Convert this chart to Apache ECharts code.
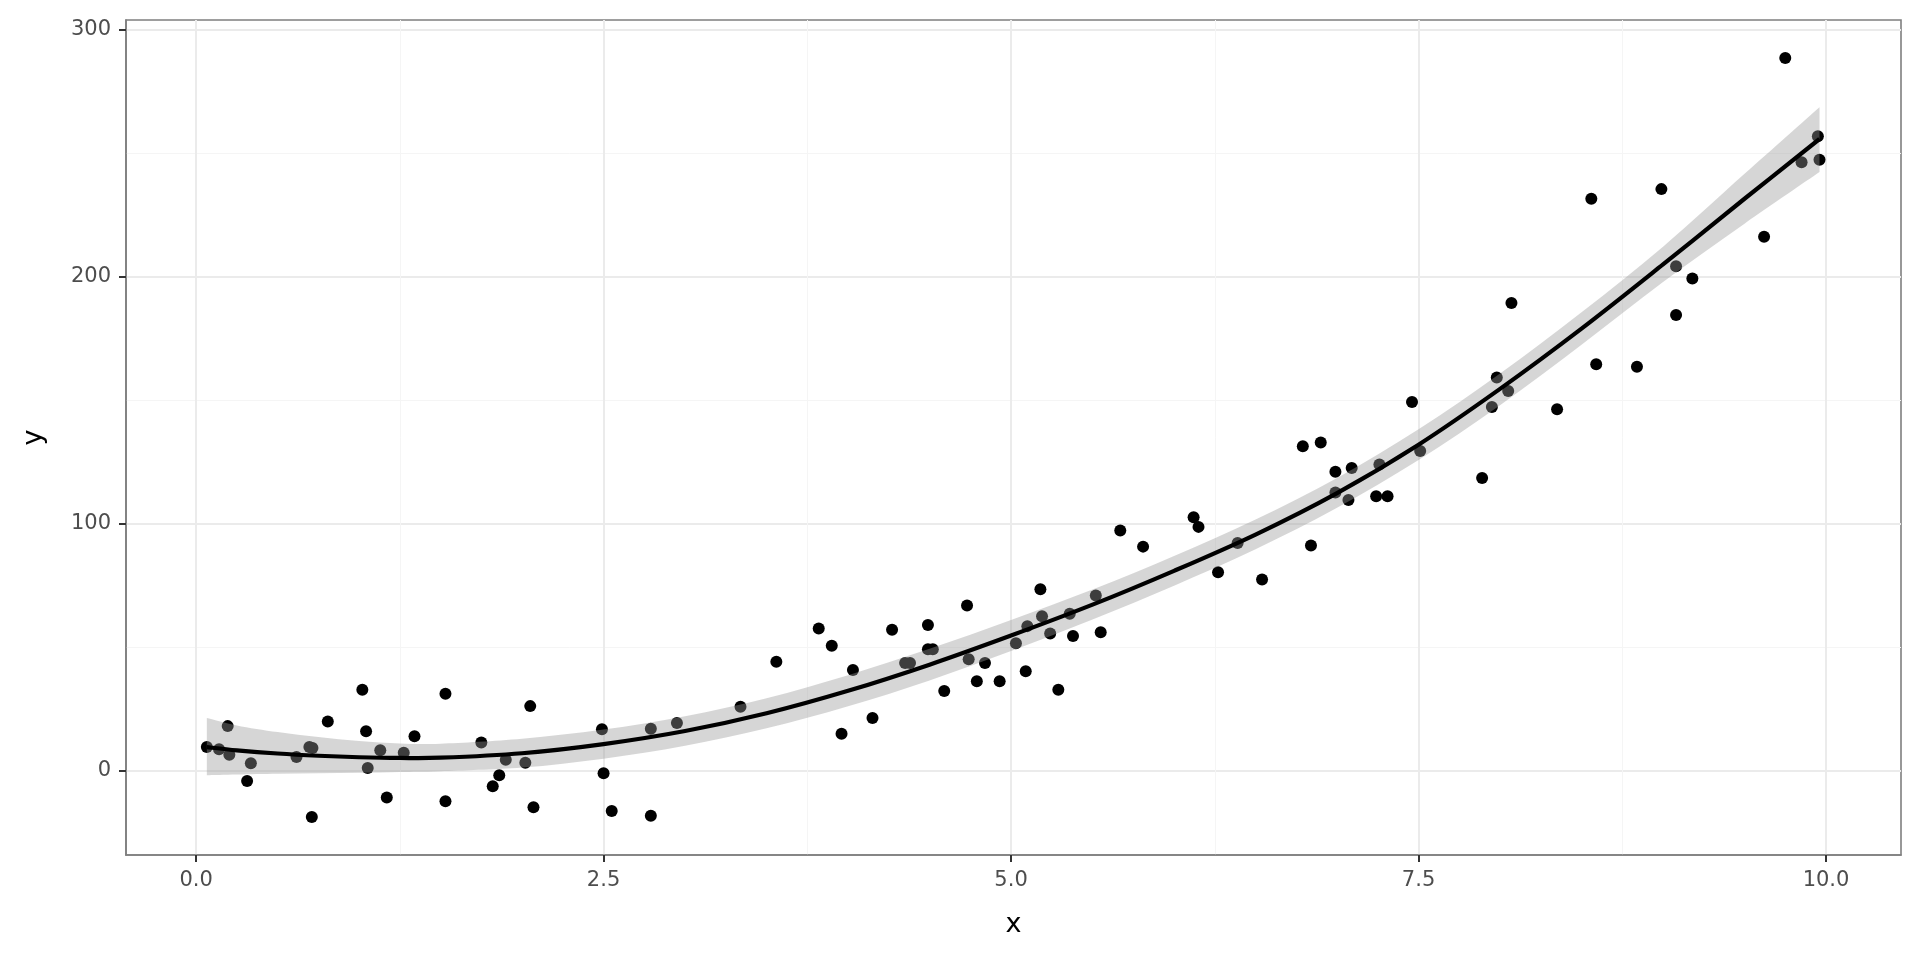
<!DOCTYPE html>
<html>
<head>
<meta charset="utf-8">
<script src="https://cdn.jsdelivr.net/npm/echarts@6/dist/echarts.min.js"></script>
<style>
html,body{margin:0;padding:0;background:#fff;}
#chart{width:1920px;height:960px;}
</style>
</head>
<body>
<div id="chart"></div>
<script>
// Scatter data
const pointX = [0.066,0.141,0.194,0.204,0.313,0.336,0.616,0.695,0.714,0.71,0.808,1.02,1.043,1.053,1.13,1.17,1.274,1.34,1.53,1.53,1.75,1.82,1.86,1.90,2.02,2.05,2.07,2.49,2.50,2.55,2.79,2.79,2.95,
  3.34,3.56,3.82,3.90,3.96,4.03,4.15,4.27,4.35,4.38,4.49,4.49,4.52,4.59,4.73,4.74,4.79,4.84,4.93,5.03,5.09,5.10,5.18,5.19,5.24,5.29,5.36,5.38,5.52,5.55,5.67,5.81,6.12,6.15,6.27,6.39,6.54,6.79,6.84,6.90,6.99,6.99,7.07,7.09,7.24,7.26,7.31,7.46,7.51,
  7.89,7.95,7.98,8.05,8.07,8.35,8.56,8.59,8.84,8.99,9.08,9.08,9.18,9.62,9.75,9.85,9.95,9.96];
const pointY = [9.5,8.6,18.0,6.4,-4.2,3.0,5.5,9.5,9.1,-18.8,19.9,32.7,15.9,1.0,8.2,-10.9,7.2,13.9,31.1,-12.4,11.4,-6.4,-1.9,4.4,3.2,26.1,-14.9,16.7,-1.1,-16.4,16.9,-18.3,19.3,
  25.8,44.1,57.5,50.6,14.9,40.7,21.3,57.0,43.6,43.6,59.0,49.1,49.1,32.2,66.9,45.1,36.2,43.6,36.2,51.6,40.2,58.5,73.4,62.5,55.5,32.7,63.5,54.5,70.9,56.0,97.2,90.7,102.6,98.7,80.3,92.2,77.4,131.4,91.2,132.9,121.0,112.6,109.6,122.5,111.1,124.0,111.1,149.3,129.4,
  118.5,147.3,159.2,153.7,189.4,146.3,231.6,164.6,163.6,235.5,184.5,204.3,199.3,216.2,288.6,246.4,256.9,247.4];

// Smoothed fit and confidence band
const fitX     = [0.066,0.25,0.5,0.75,1.0,1.25,1.5,2.0,2.5,3.0,3.5,4.0,4.5,5.0,5.5,6.0,6.5,7.0,7.5,8.0,8.5,9.0,9.5,9.96];
const fitY     = [9.5,8.2,6.9,6.0,5.4,5.1,5.2,7.0,10.7,16.0,23.2,32.3,42.9,54.7,67.2,80.9,95.6,112.4,132.0,154.6,179.0,205.0,231.6,255.8];
const fitLower = [-1.9,-1.6,-1.3,-1.1,-0.9,-0.6,-0.3,1.2,4.8,10.0,17.1,26.0,36.5,48.4,61.2,74.9,89.6,106.4,125.8,148.0,172.5,197.9,221.5,242.4];
const fitUpper = [21.3,18.3,15.6,13.6,12.0,11.0,10.9,12.9,16.6,22.0,29.3,38.6,49.3,61.0,73.3,86.9,101.7,118.5,138.2,160.8,185.6,212.2,241.7,268.7];

// Axis ticks
const xTicks = [0, 2.5, 5, 7.5, 10];
const xMinor = [1.25, 3.75, 6.25, 8.75];
const yTicks = [0, 100, 200, 300];
const yMinor = [50, 150, 250];

const FONT = 'DejaVu Sans';
const chart = echarts.init(document.getElementById('chart'), null, {renderer: 'canvas'});

const scatterData = pointX.map((x, i) => [x, pointY[i]]);
const lineData = fitX.map((x, i) => [x, fitY[i]]);
const bandData = fitX.map((x, i) => [x, fitLower[i], fitUpper[i]]);

const xMin = -0.43, xMax = 10.46, yMin = -34.2, yMax = 304;

// Catmull-Rom spline through pixel points -> SVG path commands (continuing a path)
function splineSegs(p) {
  let d = '';
  for (let i = 0; i < p.length - 1; i++) {
    const p0 = p[Math.max(i - 1, 0)], p1 = p[i], p2 = p[i + 1], p3 = p[Math.min(i + 2, p.length - 1)];
    const c1x = p1[0] + (p2[0] - p0[0]) / 6, c1y = p1[1] + (p2[1] - p0[1]) / 6;
    const c2x = p2[0] - (p3[0] - p1[0]) / 6, c2y = p2[1] - (p3[1] - p1[1]) / 6;
    d += ' C' + c1x + ',' + c1y + ' ' + c2x + ',' + c2y + ' ' + p2[0] + ',' + p2[1];
  }
  return d;
}

const borderLine = {show: true, onZero: false, lineStyle: {color: '#7f7f7f', width: 1.6}};

chart.setOption({
  animation: false,
  backgroundColor: '#ffffff',
  grid: {
    left: 126, right: 19, top: 20, bottom: 105,
    containLabel: false, outerBoundsMode: 'none',
    show: true, borderColor: '#7f7f7f', borderWidth: 1.6, backgroundColor: 'transparent'
  },
  xAxis: [
    {
      type: 'value', min: xMin, max: xMax, position: 'bottom',
      name: 'x', nameLocation: 'middle', nameGap: 56,
      nameTextStyle: {fontFamily: FONT, fontSize: 27, color: '#000'},
      axisLine: borderLine,
      axisTick: {show: true, inside: false, length: 7, customValues: xTicks, lineStyle: {color: '#333333', width: 2}},
      axisLabel: {show: true, customValues: xTicks, margin: 15, fontFamily: FONT, fontSize: 21, color: '#4d4d4d',
        formatter: v => Number(v).toFixed(1)},
      splitLine: {show: true, lineStyle: {color: '#ebebeb', width: 2}}
    },
    {
      type: 'value', min: xMin, max: xMax, position: 'bottom',
      axisLine: {show: false, onZero: false}, axisLabel: {show: false},
      axisTick: {show: false, customValues: xMinor},
      splitLine: {show: true, lineStyle: {color: '#f5f5f5', width: 1}}
    }
  ],
  yAxis: [
    {
      type: 'value', min: yMin, max: yMax, position: 'left',
      name: 'y', nameLocation: 'middle', nameGap: 79, nameRotate: 90,
      nameTextStyle: {fontFamily: FONT, fontSize: 27, color: '#000'},
      axisLine: borderLine,
      axisTick: {show: true, inside: false, length: 7, customValues: yTicks, lineStyle: {color: '#333333', width: 2}},
      axisLabel: {show: true, customValues: yTicks, margin: 15, fontFamily: FONT, fontSize: 21, color: '#4d4d4d'},
      splitLine: {show: true, lineStyle: {color: '#ebebeb', width: 2}}
    },
    {
      type: 'value', min: yMin, max: yMax, position: 'left',
      axisLine: {show: false, onZero: false}, axisLabel: {show: false},
      axisTick: {show: false, customValues: yMinor},
      splitLine: {show: true, lineStyle: {color: '#f5f5f5', width: 1}}
    }
  ],
  series: [
    {
      type: 'scatter', xAxisIndex: 0, yAxisIndex: 0, z: 2,
      data: scatterData, symbol: 'circle', symbolSize: 12,
      itemStyle: {color: '#000000', opacity: 1}, silent: true
    },
    {
      type: 'custom', xAxisIndex: 0, yAxisIndex: 0, z: 3, silent: true, clip: true,
      data: bandData,
      encode: {x: 0, y: 1},
      renderItem: function (params, api) {
        if (params.dataIndex !== 0) return null;
        const up = fitX.map((x, i) => api.coord([x, fitUpper[i]]));
        const lo = fitX.map((x, i) => api.coord([x, fitLower[i]])).reverse();
        let d = 'M' + up[0][0] + ',' + up[0][1] + splineSegs(up);
        d += ' L' + lo[0][0] + ',' + lo[0][1] + splineSegs(lo) + ' Z';
        return {type: 'path', shape: {pathData: d}, style: {fill: 'rgba(153,153,153,0.4)', stroke: null}};
      }
    },
    {
      type: 'custom', xAxisIndex: 0, yAxisIndex: 0, z: 4, silent: true, clip: true,
      data: lineData,
      encode: {x: 0, y: 1},
      renderItem: function (params, api) {
        if (params.dataIndex !== 0) return null;
        const pts = fitX.map((x, i) => api.coord([x, fitY[i]]));
        const d = 'M' + pts[0][0] + ',' + pts[0][1] + splineSegs(pts);
        return {type: 'path', shape: {pathData: d}, style: {fill: null, stroke: '#000000', lineWidth: 4.2, lineJoin: 'round', lineCap: 'butt'}};
      }
    }
  ]
});
</script>
</body>
</html>
